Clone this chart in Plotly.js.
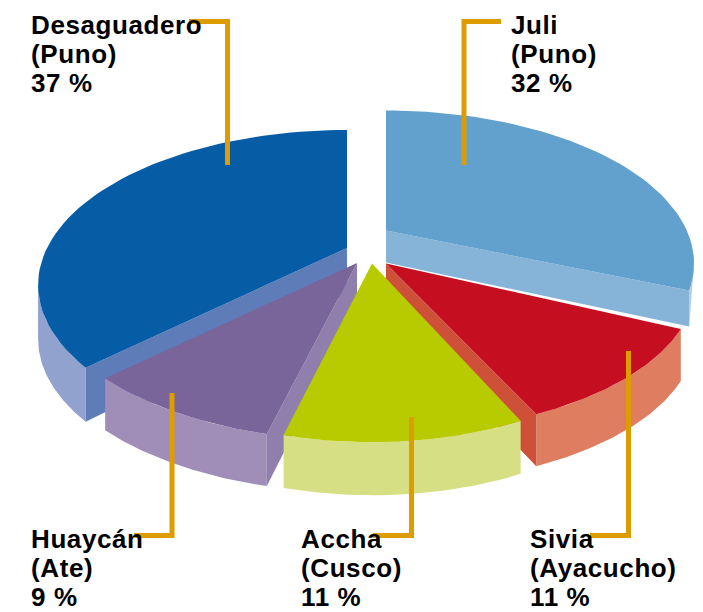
<!DOCTYPE html>
<html><head><meta charset="utf-8">
<script src="https://cdn.plot.ly/plotly-3.0.1.min.js"></script>
<style>html,body{margin:0;padding:0;background:#fff}#c{width:703px;height:612px}
.annotation-text{letter-spacing:0.6px}</style></head>
<body><div id="c"></div>
<script>
// data, clockwise from the top of the pie
const places = ["Juli","Sivia","Accha","Huaycán","Desaguadero"];
const regions = ["(Puno)","(Ayacucho)","(Cusco)","(Ate)","(Puno)"];
const shares = [32,11,11,9,37];

// drawing style for each slice
const topColors = ["#62a0cd","#c50f20","#b8ca00","#7a659b","#075ca6"];
const sideColors = ["#b4cde6","#de7d5f","#d6df84","#a08eb8","#92a2cf"];
const cutColors = ["#86b3d8","#ce5038",null,"#907eac","#5d7cb8"];
const geometry = [
 {cx:386,cy:230.5,rx:300.8,ry:145.9,p:.2157,bend:.974,depth:36,apexDepth:32,cut:"end",sideFromExtreme:true,ramp:true},
 {cx:386,cy:263.5,rx:305,ry:144,p:.15,bend:1,depth:52,apexDepth:46,cut:"end"},
 {cx:372,cy:263.5,rx:278,ry:138.5,p:.225,bend:1,depth:53,apexDepth:46,cut:null},
 {cx:357,cy:263,rx:310,ry:151,p:.15,bend:1,depth:52,apexDepth:45,cut:"start"},
 {cx:347,cy:248,rx:300,ry:146.2,p:.2387,bend:1,depth:54,apexDepth:46,cut:"start",sideToExtreme:true}
];
const paintOrder = [0,4,1,3,2];

const labelAnchors = [[509,"J"],[528,"S"],[299,"A"],[29,"H"],[29,"D"]];
const labelRows = [[25,54,83],[539,568,597],[539,568,597],[539,568,597],[25,54,83]];
const leaders = [
 "M501 21.5H464V165",
 "M590 535.5H628.5V351",
 "M373 535.5H411.5V417",
 "M134 535.5H172V393",
 "M189 21.5H227.5V165"
];

const total = shares.reduce((a,b)=>a+b,0);
const rad = d=>d*Math.PI/180;
function pt(g,deg,dz){
  const a=rad(deg*g.bend), c=Math.cos(a), s=Math.sin(a), w=1+g.p*c;
  return [g.cx+g.rx*s/w, g.cy-g.ry*c/w+(dz||0)];
}
function range(a,b){const out=[];const n=60;for(let i=0;i<=n;i++)out.push(a+(b-a)*i/n);return out;}
function face(pts,color,name){
  return {type:"scatter",mode:"lines",x:pts.map(p=>p[0]),y:pts.map(p=>p[1]),fill:"toself",
    fillcolor:color,line:{width:0,color:color},hoverinfo:"text",text:name,showlegend:false};
}
const spans=[];let acc=0;
shares.forEach(v=>{const a0=acc/total*360;acc+=v;spans.push([a0,acc/total*360]);});

const traces=[];
paintOrder.forEach(i=>{
  const g=geometry[i],[a0,a1]=spans[i],name=places[i]+" "+shares[i]+" %";
  const apex=[g.cx,g.cy];
  // outer wall
  let s0=a0,s1=a1;
  if(g.sideFromExtreme) s0=Math.acos(-g.p)*180/Math.PI/g.bend;
  if(g.sideToExtreme) s1=360-Math.acos(-g.p)*180/Math.PI;
  const arc=range(s0,s1).map(d=>pt(g,d));
  let lower;
  if(g.ramp) lower=[pt(g,s1,g.depth)];
  else lower=range(s1,s0).map(d=>pt(g,d,g.depth));
  // straight cut face
  const cutFace=()=>{
    if(!g.cut) return;
    const d=g.cut==="end"?a1:a0;
    traces.push(face([apex,pt(g,d),pt(g,d,g.depth),[g.cx,g.cy+g.apexDepth]],cutColors[i],name));
  };
  traces.push(face(arc.concat(lower),sideColors[i],name));
  cutFace();
  // top surface
  traces.push(face([apex].concat(range(a0,a1).map(d=>pt(g,d))),topColors[i],name));
});

const annotations=[];
places.forEach((p,i)=>{
  [p,regions[i],shares[i]+" %"].forEach((t,r)=>{
    annotations.push({x:labelAnchors[i][0],y:labelRows[i][r],xref:"x",yref:"y",text:t,showarrow:false,
      xanchor:"left",yanchor:"middle",align:"left",
      font:{family:"'Liberation Sans Narrow','Liberation Sans',sans-serif",size:26,color:"#000",weight:700}});
  });
});
const shapes=leaders.map(d=>({type:"path",path:d,xref:"x",yref:"y",layer:"above",line:{color:"#dd9c00",width:5}}));

Plotly.newPlot("c",traces,{
  width:703,height:612,margin:{l:0,r:0,t:0,b:0},paper_bgcolor:"#fff",plot_bgcolor:"#fff",showlegend:false,
  xaxis:{range:[0,703],visible:false,fixedrange:true},
  yaxis:{range:[612,0],visible:false,fixedrange:true},
  annotations,shapes
},{displayModeBar:false,staticPlot:true});
</script></body></html>
